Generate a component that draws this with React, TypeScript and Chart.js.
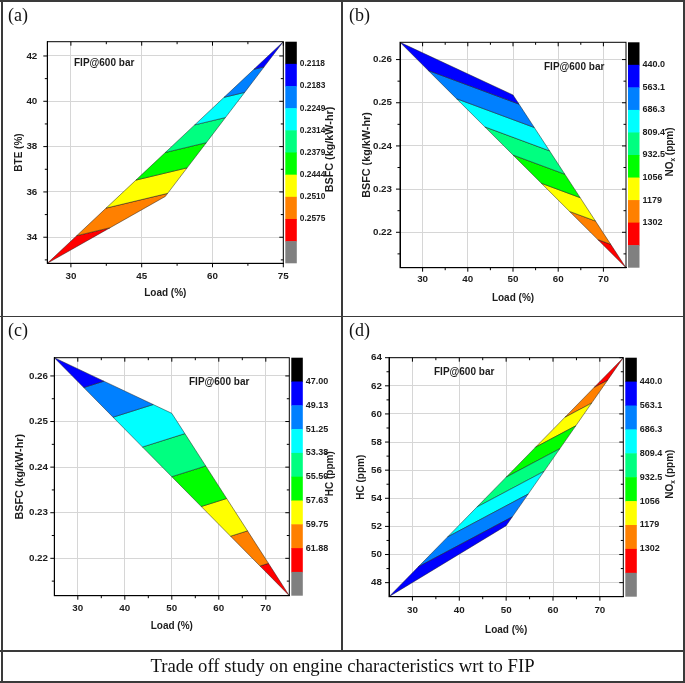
import React, { useEffect, useRef } from 'react';
import { Chart, registerables } from 'chart.js';

Chart.register(...registerables);

// ---------------- data ----------------
const loadPct = [25, 50, 75];
const bte = [32.85, 35.8, 42.63];
const bsfc = [0.264, 0.2518, 0.2118];
const nox = [440, 515, 1425];
const hc = [47.0, 52.05, 64.0];

const bsfcLevels = [0.2118, 0.2183, 0.2249, 0.2314, 0.2379, 0.2444, 0.251, 0.2575, 0.264];
const bsfcLevelLabels = ['0.2118', '0.2183', '0.2249', '0.2314', '0.2379', '0.2444', '0.2510', '0.2575'];
const noxLevels = [440.0, 563.1, 686.3, 809.4, 932.5, 1056, 1179, 1302, 1425];
const noxLevelLabels = ['440.0', '563.1', '686.3', '809.4', '932.5', '1056', '1179', '1302'];
const hcLevels = [47.0, 49.13, 51.25, 53.38, 55.5, 57.63, 59.75, 61.88, 64.0];
const hcLevelLabels = ['47.00', '49.13', '51.25', '53.38', '55.50', '57.63', '59.75', '61.88'];

// colour of each band, top of colour bar to bottom (low value -> high value)
const bandColors = ['#000000', '#0000ff', '#0080ff', '#00ffff', '#00ff80', '#00ff00', '#ffff00', '#ff8000', '#ff0000', '#808080'];

const loadTicks15 = [30, 45, 60, 75];
const loadMinor15 = [37.5, 52.5, 67.5];
const loadTicks10 = [30, 40, 50, 60, 70];
const loadMinor10 = [35, 45, 55, 65];
const bteTicks = [34, 36, 38, 40, 42];
const bteMinor = [33, 35, 37, 39, 41];
const bsfcTicks = [0.22, 0.23, 0.24, 0.25, 0.26];
const bsfcMinor = [0.215, 0.225, 0.235, 0.245, 0.255];
const hcTicks = [48, 50, 52, 54, 56, 58, 60, 62, 64];
const hcMinor = [49, 51, 53, 55, 57, 59, 61, 63];

const SANS = '"Liberation Sans", Arial, sans-serif';
const SERIF = '"Liberation Serif", "Times New Roman", serif';
const INK = '#1c1c1c';

Chart.defaults.font.family = SANS;
Chart.defaults.color = INK;

// ---------------- contour helpers ----------------
type P = { x: number; y: number; z: number };

function clip(poly: P[], level: number, keepAbove: boolean): P[] {
  const out: P[] = [];
  for (let i = 0; i < poly.length; i++) {
    const a = poly[i];
    const b = poly[(i + 1) % poly.length];
    const ina = keepAbove ? a.z >= level : a.z <= level;
    const inb = keepAbove ? b.z >= level : b.z <= level;
    if (ina) out.push(a);
    if (ina !== inb) {
      const t = (level - a.z) / (b.z - a.z);
      out.push({ x: a.x + t * (b.x - a.x), y: a.y + t * (b.y - a.y), z: level });
    }
  }
  return out;
}

function bandPolygons(tri: P[], levels: number[]) {
  const bounds = [-Infinity, ...levels, Infinity];
  const xr = Math.max(...tri.map((p) => p.x)) - Math.min(...tri.map((p) => p.x));
  const yr = Math.max(...tri.map((p) => p.y)) - Math.min(...tri.map((p) => p.y));
  const res: { poly: P[]; band: number }[] = [];
  for (let i = 0; i < bounds.length - 1; i++) {
    let poly = tri;
    if (isFinite(bounds[i])) poly = clip(poly, bounds[i], true);
    if (isFinite(bounds[i + 1])) poly = clip(poly, bounds[i + 1], false);
    if (poly.length < 3) continue;
    let area = 0;
    for (let k = 0; k < poly.length; k++) {
      const a = poly[k];
      const b = poly[(k + 1) % poly.length];
      area += (a.x / xr) * (b.y / yr) - (b.x / xr) * (a.y / yr);
    }
    if (Math.abs(area) < 1e-6) continue;
    res.push({ poly, band: i });
  }
  return res;
}

// ---------------- plugins ----------------
const frameTicksPlugin = {
  id: 'frameTicks',
  afterDraw(chart: any, _args: any, o: any) {
    const { ctx, chartArea: a, scales } = chart;
    const xs = scales.x;
    const ys = scales.y;
    ctx.save();
    ctx.strokeStyle = '#000';
    ctx.lineWidth = 1;
    ctx.strokeRect(a.left, a.top, a.right - a.left, a.bottom - a.top);
    const seg = (x1: number, y1: number, x2: number, y2: number) => {
      ctx.beginPath();
      ctx.moveTo(x1, y1);
      ctx.lineTo(x2, y2);
      ctx.stroke();
    };
    const MJ = 4;
    const MN = 2.5;
    const doX = (vals: number[], len: number) =>
      vals.forEach((v) => {
        const p = xs.getPixelForValue(v);
        seg(p, a.bottom, p, a.bottom + len);
        seg(p, a.top, p, a.top + len);
      });
    const doY = (vals: number[], len: number) =>
      vals.forEach((v) => {
        const p = ys.getPixelForValue(v);
        seg(a.left - len, p, a.left, p);
        seg(a.right - len, p, a.right, p);
      });
    doX(o.xMajor, MJ);
    doX(o.xMinor, MN);
    doY(o.yMajor, MJ);
    doY(o.yMinor, MN);
    ctx.restore();
  },
};

const colorBarPlugin = {
  id: 'colorBar',
  afterDraw(chart: any, _args: any, o: any) {
    const { ctx, chartArea: a } = chart;
    const x0 = a.right + o.gap;
    const w = o.width;
    const top = a.top;
    const bot = a.bottom;
    const n = o.colors.length;
    const h = (bot - top) / n;
    ctx.save();
    o.colors.forEach((c: string, i: number) => {
      ctx.fillStyle = c;
      ctx.fillRect(x0, top + i * h, w, i === n - 1 ? h : h + 0.5);
    });
    ctx.font = `bold ${o.labelSize}px ${SANS}`;
    ctx.fillStyle = INK;
    ctx.textAlign = 'left';
    ctx.textBaseline = 'middle';
    o.labels.forEach((t: string, i: number) => ctx.fillText(t, x0 + w + o.labelGap, top + (i + 1) * h));
    // title
    ctx.translate(a.right + o.titleOffset, (top + bot) / 2 + o.titleShift);
    ctx.rotate(-Math.PI / 2);
    const mainFont = `bold ${o.titleSize}px ${SANS}`;
    const subFont = `bold ${o.titleSize * 0.65}px ${SANS}`;
    let total = 0;
    o.title.forEach((p: any) => {
      ctx.font = p.sub ? subFont : mainFont;
      total += ctx.measureText(p.t).width;
    });
    let cx = -total / 2;
    ctx.textAlign = 'left';
    o.title.forEach((p: any) => {
      ctx.font = p.sub ? subFont : mainFont;
      ctx.fillText(p.t, cx, p.sub ? o.titleSize * 0.3 : 0);
      cx += ctx.measureText(p.t).width;
    });
    ctx.restore();
  },
};

// ---------------- panel specs ----------------
type Spec = {
  tag: string;
  canvas: { left: number; top: number; width: number; height: number };
  plot: { l: number; t: number; r: number; b: number };
  x: number[];
  y: number[];
  z: number[];
  levels: number[];
  levelLabels: string[];
  xTicks: number[];
  xMinor: number[];
  yTicks: number[];
  yMinor: number[];
  yDec: number;
  yTitle: string;
  yTitleSize: number;
  cbTitle: { t: string; sub?: boolean }[];
  cbTitleSize: number;
  cbLabelSize: number;
  yTitleX: number;
  xTitleY: number;
  yLabPad: number;
  xLabPad: number;
  cbTitleX: number;
  fip: { left: number; cy: number };
  labelPos: { left: number; top: number };
};

const NOX_TITLE = [{ t: 'NO' }, { t: 'x', sub: true }, { t: ' (ppm)' }];

const specs: Spec[] = [
  {
    tag: '(a)',
    canvas: { left: 2, top: 2, width: 339, height: 314 },
    plot: { l: 47.3, t: 41.7, r: 283.3, b: 263.3 },
    x: loadPct, y: bte, z: bsfc,
    levels: bsfcLevels, levelLabels: bsfcLevelLabels,
    xTicks: loadTicks15, xMinor: loadMinor15, yTicks: bteTicks, yMinor: bteMinor, yDec: 0,
    yTitle: 'BTE (%)', yTitleSize: 10,
    cbTitle: [{ t: 'BSFC (kg/kW-hr)' }], cbTitleSize: 10.8, cbLabelSize: 8.4,
    yTitleX: 19, xTitleY: 293, yLabPad: 10, xLabPad: 7, cbTitleX: 330,
    fip: { left: 74, cy: 63 }, labelPos: { left: 8, top: 6 },
  },
  {
    tag: '(b)',
    canvas: { left: 343, top: 2, width: 340, height: 314 },
    plot: { l: 400, t: 42.3, r: 626, b: 267.7 },
    x: loadPct, y: bsfc, z: nox,
    levels: noxLevels, levelLabels: noxLevelLabels,
    xTicks: loadTicks10, xMinor: loadMinor10, yTicks: bsfcTicks, yMinor: bsfcMinor, yDec: 2,
    yTitle: 'BSFC (kg/kW-hr)', yTitleSize: 10.8,
    cbTitle: NOX_TITLE, cbTitleSize: 10, cbLabelSize: 9,
    yTitleX: 367, xTitleY: 298, yLabPad: 8, xLabPad: 6, cbTitleX: 670,
    fip: { left: 544, cy: 67 }, labelPos: { left: 349, top: 6 },
  },
  {
    tag: '(c)',
    canvas: { left: 2, top: 317, width: 339, height: 333 },
    plot: { l: 54.3, t: 357.7, r: 289.3, b: 595.7 },
    x: loadPct, y: bsfc, z: hc,
    levels: hcLevels, levelLabels: hcLevelLabels,
    xTicks: loadTicks10, xMinor: loadMinor10, yTicks: bsfcTicks, yMinor: bsfcMinor, yDec: 2,
    yTitle: 'BSFC (kg/kW-hr)', yTitleSize: 10.8,
    cbTitle: [{ t: 'HC (ppm)' }], cbTitleSize: 10, cbLabelSize: 9,
    yTitleX: 20, xTitleY: 626.7, yLabPad: 6.3, xLabPad: 6.3, cbTitleX: 330,
    fip: { left: 189, cy: 382 }, labelPos: { left: 8, top: 321 },
  },
  {
    tag: '(d)',
    canvas: { left: 343, top: 317, width: 340, height: 333 },
    plot: { l: 389, t: 357.7, r: 623.3, b: 596.7 },
    x: loadPct, y: hc, z: nox,
    levels: noxLevels, levelLabels: noxLevelLabels,
    xTicks: loadTicks10, xMinor: loadMinor10, yTicks: hcTicks, yMinor: hcMinor, yDec: 0,
    yTitle: 'HC (ppm)', yTitleSize: 10,
    cbTitle: NOX_TITLE, cbTitleSize: 10, cbLabelSize: 9,
    yTitleX: 361.7, xTitleY: 630, yLabPad: 7, xLabPad: 7.6, cbTitleX: 670,
    fip: { left: 434, cy: 372 }, labelPos: { left: 349, top: 321 },
  },
];

function makeConfig(s: Spec): any {
  const tri: P[] = s.x.map((x, i) => ({ x, y: s.y[i], z: s.z[i] }));
  const datasets = bandPolygons(tri, s.levels).map(({ poly, band }) => ({
    data: [...poly, poly[0]].map((p) => ({ x: p.x, y: p.y })),
    showLine: true,
    fill: 'shape',
    backgroundColor: bandColors[band],
    borderColor: 'rgba(25,25,25,0.8)',
    borderWidth: 0.6,
    pointRadius: 0,
    pointHoverRadius: 0,
    tension: 0,
  }));
  const c = s.canvas;
  const xTitleSize = 10;
  const tickFont = { family: SANS, size: 9.8, weight: 'bold' as const };
  return {
    type: 'scatter',
    data: { datasets },
    options: {
      animation: false,
      responsive: false,
      devicePixelRatio: 1,
      events: [],
      layout: {
        padding: { left: 0, top: s.plot.t - c.top, right: c.left + c.width - s.plot.r, bottom: 0 },
      },
      plugins: {
        legend: { display: false },
        tooltip: { enabled: false },
        frameTicks: { xMajor: s.xTicks, xMinor: s.xMinor, yMajor: s.yTicks, yMinor: s.yMinor },
        colorBar: {
          colors: bandColors,
          labels: s.levelLabels,
          gap: 2,
          width: 11.5,
          labelGap: 3,
          labelSize: s.cbLabelSize,
          title: s.cbTitle,
          titleSize: s.cbTitleSize,
          titleOffset: s.cbTitleX - s.plot.r,
          titleShift: -3,
        },
      },
      scales: {
        x: {
          type: 'linear',
          bounds: 'data',
          min: Math.min(...s.x),
          max: Math.max(...s.x),
          afterBuildTicks: (sc: any) => {
            sc.ticks = s.xTicks.map((v) => ({ value: v }));
          },
          afterFit: (sc: any) => {
            sc.height = c.top + c.height - s.plot.b;
          },
          grid: { color: '#d6d6d6', lineWidth: 1, drawTicks: false },
          border: { display: true, color: '#000', width: 1 },
          ticks: {
            padding: s.xLabPad,
            color: INK,
            font: tickFont,
            autoSkip: false,
            maxRotation: 0,
            minRotation: 0,
            callback: (v: number) => String(v),
          },
          title: {
            display: true,
            text: 'Load (%)',
            color: INK,
            font: { family: SANS, size: xTitleSize, weight: 'bold' },
            padding: { top: 0, bottom: c.top + c.height - s.xTitleY - (xTitleSize * 1.2) / 2 },
          },
        },
        y: {
          type: 'linear',
          bounds: 'data',
          min: Math.min(...s.y),
          max: Math.max(...s.y),
          afterBuildTicks: (sc: any) => {
            sc.ticks = s.yTicks.map((v) => ({ value: v }));
          },
          afterFit: (sc: any) => {
            sc.width = s.plot.l - c.left;
          },
          grid: { color: '#d6d6d6', lineWidth: 1, drawTicks: false },
          border: { display: true, color: '#000', width: 1 },
          ticks: {
            padding: s.yLabPad,
            color: INK,
            font: tickFont,
            autoSkip: false,
            callback: (v: number) => v.toFixed(s.yDec),
          },
          title: {
            display: true,
            text: s.yTitle,
            color: INK,
            font: { family: SANS, size: s.yTitleSize, weight: 'bold' },
            padding: { top: s.yTitleX - c.left - (s.yTitleSize * 1.2) / 2, bottom: 0 },
          },
        },
      },
    },
    plugins: [frameTicksPlugin, colorBarPlugin],
  };
}

function Panel({ spec }: { spec: Spec }) {
  const ref = useRef<HTMLCanvasElement>(null);
  useEffect(() => {
    if (!ref.current) return;
    const chart = new Chart(ref.current, makeConfig(spec));
    return () => chart.destroy();
  }, [spec]);
  const c = spec.canvas;
  return (
    <>
      <canvas
        ref={ref}
        width={c.width}
        height={c.height}
        style={{ position: 'absolute', left: c.left, top: c.top, width: c.width, height: c.height }}
      />
      <div
        style={{
          position: 'absolute',
          left: spec.labelPos.left,
          top: spec.labelPos.top,
          font: `18px ${SERIF}`,
          lineHeight: '18px',
          color: '#111',
          whiteSpace: 'nowrap',
        }}
      >
        {spec.tag}
      </div>
      <div
        style={{
          position: 'absolute',
          left: spec.fip.left,
          top: spec.fip.cy - 6,
          font: `bold 10px ${SANS}`,
          lineHeight: '12px',
          color: INK,
          whiteSpace: 'nowrap',
        }}
      >
        FIP@600 bar
      </div>
    </>
  );
}

const LINE = '#3a3a3a';

export default function App() {
  const line = (left: number, top: number, width: number, height: number) => (
    <div style={{ position: 'absolute', left, top, width, height, background: LINE }} />
  );
  return (
    <div
      style={{
        position: 'absolute',
        left: 0,
        top: 0,
        width: 685,
        height: 683,
        background: '#fff',
        overflow: 'hidden',
      }}
    >
      {specs.map((s) => (
        <Panel key={s.tag} spec={s} />
      ))}
      {line(0, 0, 685, 1.5)}
      {line(1, 0, 1.5, 683)}
      {line(683, 0, 1.5, 683)}
      {line(0, 681.3, 685, 1.5)}
      {line(341.3, 0, 1.5, 651)}
      {line(0, 315.7, 685, 1.5)}
      {line(0, 650, 685, 1.5)}
      <div
        style={{
          position: 'absolute',
          left: 2,
          top: 655,
          width: 681,
          height: 26,
          lineHeight: '26px',
          textAlign: 'center',
          font: `18.7px ${SERIF}`,
          color: '#111',
          whiteSpace: 'nowrap',
        }}
      >
        Trade off study on engine characteristics wrt to FIP
      </div>
    </div>
  );
}
